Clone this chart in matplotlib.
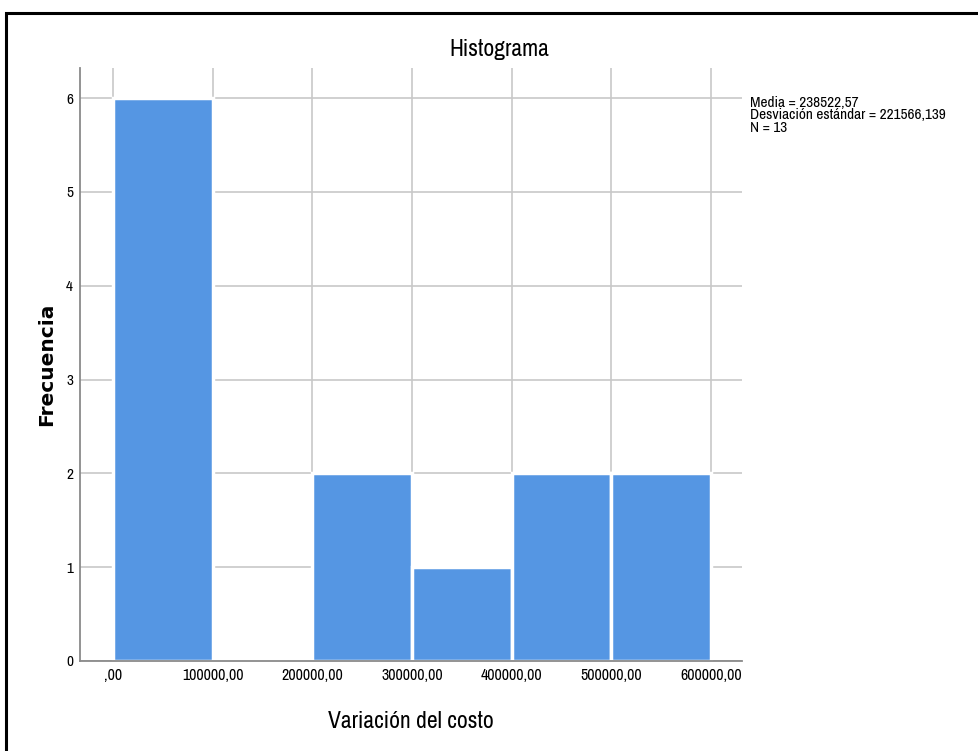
import matplotlib
matplotlib.use("Agg")
import matplotlib.pyplot as plt
from matplotlib import font_manager
from matplotlib.patches import Rectangle

names = {f.name for f in font_manager.fontManager.ttflist}
narrow = next((n for n in ["Archivo Narrow", "Liberation Sans Narrow", "Roboto Condensed", "PT Sans Narrow"] if n in names), "DejaVu Sans")

bin_edges = [0, 100000, 200000, 300000, 400000, 500000, 600000]
counts = [6, 0, 2, 1, 2, 2]
xtick_vals = [0, 100000, 200000, 300000, 400000, 500000, 600000]
xtick_labels = [",00", "100000,00", "200000,00", "300000,00", "400000,00", "500000,00", "600000,00"]
ytick_vals = [0, 1, 2, 3, 4, 5, 6]
stats_text = "Media = 238522,57\nDesviación estándar = 221566,139\nN = 13"

fig = plt.figure(figsize=(9.79, 7.51), dpi=100)
ax = fig.add_axes([80/979, 1-661/751, (742-80)/979, (661-68)/751])

lefts = bin_edges[:-1]
widths = [b - a for a, b in zip(bin_edges[:-1], bin_edges[1:])]
ax.bar(lefts, counts, width=widths, align="edge", color="#5596E3",
       edgecolor="white", linewidth=2.5, zorder=3)

ax.set_xlim(-33000, 631000)
ax.set_ylim(0, 6.32)
ax.set_xticks(xtick_vals)
ax.set_xticklabels(xtick_labels, fontfamily=narrow, fontsize=11.5)
ax.set_yticks(ytick_vals)
ax.set_yticklabels([str(v) for v in ytick_vals], fontfamily=narrow, fontsize=11)
ax.tick_params(length=0)
ax.tick_params(axis="x", pad=5)
ax.tick_params(axis="y", pad=5)
ax.grid(True, color="#c8c8c8", linewidth=1.2, zorder=0)
ax.set_axisbelow(True)
for s in ["top", "right"]:
    ax.spines[s].set_visible(False)
for s in ["left", "bottom"]:
    ax.spines[s].set_color("#8a8a8a")
    ax.spines[s].set_linewidth(1.3)
    ax.spines[s].set_zorder(4)

ax.set_xlabel("Variación del costo", fontfamily=narrow, fontsize=17, labelpad=20)
ax.set_ylabel("Frecuencia", fontfamily="DejaVu Sans", fontweight="bold", fontsize=14.5, labelpad=7)

fig.text(499/979, 1-50/751, "Histograma", ha="center", va="center", fontfamily=narrow, fontsize=17)
fig.text(750/979, 1-96/751, stats_text, ha="left", va="top", fontfamily=narrow, fontsize=11, linespacing=0.85)

fig.patches.append(Rectangle((6/979, -0.1), 2, 1.1 - 13/751, transform=fig.transFigure,
                             fill=False, edgecolor="black", linewidth=2.2))

fig.savefig("out.png", dpi=100)
